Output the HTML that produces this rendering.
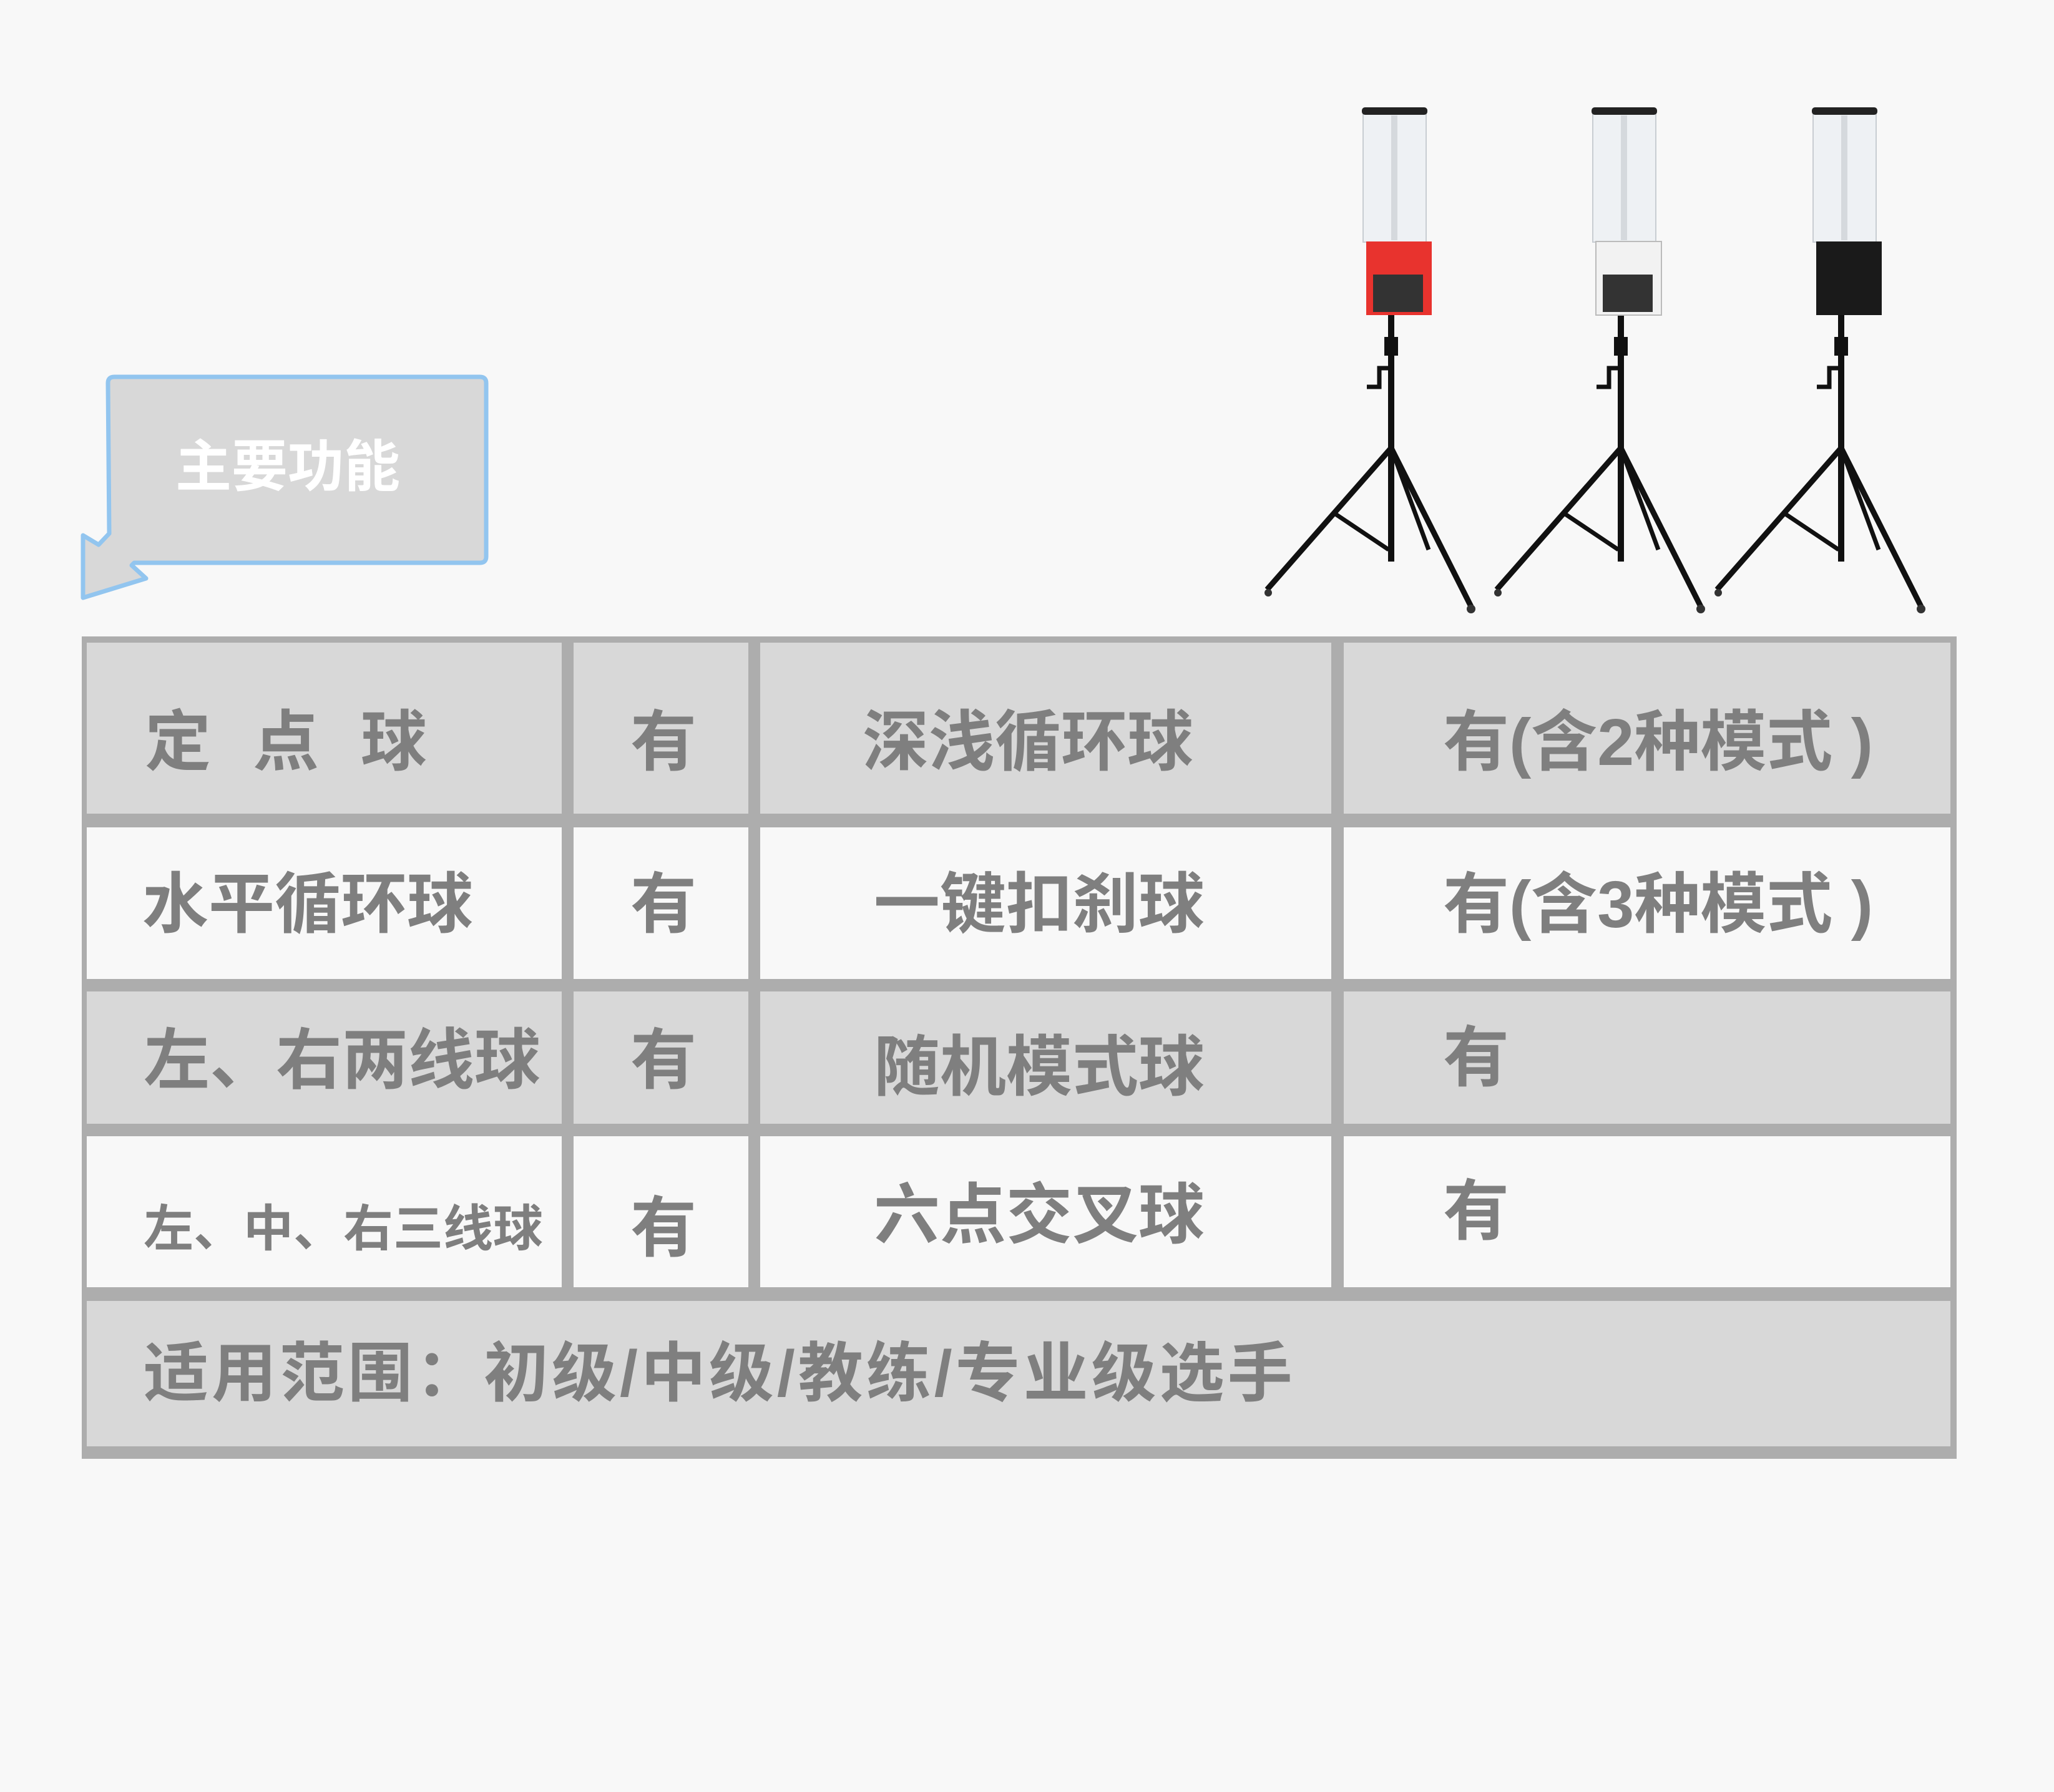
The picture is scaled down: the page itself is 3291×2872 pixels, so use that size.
<!DOCTYPE html>
<html><head><meta charset="utf-8"><style>
html,body{margin:0;padding:0;}
body{width:3291px;height:2872px;background:#f8f8f8;position:relative;overflow:hidden;font-family:"Liberation Sans","Noto Sans CJK SC",sans-serif;}
.a{position:absolute;}
.t{position:absolute;color:#7f7f7f;font-weight:bold;font-size:106px;line-height:106px;white-space:nowrap;}
</style></head><body>

<svg class="a" style="left:0;top:0" width="3291" height="1100">
  <path d="M183,604 L769,604 Q779,604 779,614 L779,892 Q779,902 769,902 L215,902 L211,906 L234,927 L133,958 L133,858 L158,873 L175,855 L173,614 Q173,604 183,604 Z" fill="#d8d8d8" stroke="#92c5ef" stroke-width="7" stroke-linejoin="round"/>
  <g id="m">
    <line x1="2229" y1="505" x2="2229" y2="900" stroke="#111" stroke-width="10"/>
    <rect x="2218" y="540" width="22" height="30" fill="#111"/>
    <path d="M2229,590 L2210,590 L2210,620 L2190,620" stroke="#111" stroke-width="7" fill="none"/>
    <line x1="2229" y1="718" x2="2030" y2="945" stroke="#111" stroke-width="9"/>
    <line x1="2229" y1="718" x2="2357" y2="972" stroke="#111" stroke-width="9"/>
    <line x1="2229" y1="718" x2="2289" y2="881" stroke="#111" stroke-width="7"/>
    <line x1="2137" y1="822" x2="2225" y2="881" stroke="#111" stroke-width="7"/>
    <circle cx="2032" cy="950" r="6" fill="#333"/>
    <circle cx="2357" cy="976" r="7" fill="#333"/>
    <rect x="2184" y="176" width="101" height="212" fill="#eef1f4" stroke="#c8cdd2" stroke-width="2"/>
    <rect x="2182" y="172" width="105" height="12" rx="5" fill="#222"/>
    <line x1="2234" y1="185" x2="2234" y2="385" stroke="#d5d9dd" stroke-width="10"/>
  </g>
  <rect x="2189" y="387" width="105" height="118" fill="#e8332e"/>
  <rect x="2200" y="440" width="80" height="60" fill="#333"/>
  <use href="#m" transform="translate(368,0)"/>
  <rect x="2557" y="387" width="105" height="118" fill="#f2f2f2" stroke="#bbb" stroke-width="2"/>
  <rect x="2568" y="440" width="80" height="60" fill="#333"/>
  <use href="#m" transform="translate(721,0)"/>
  <rect x="2910" y="387" width="105" height="118" fill="#1a1a1a"/>
</svg>

<div class="a" style="left:131px;top:1020px;width:3004px;height:1318px;background:#adadad;"></div>
<div class="a" style="left:139px;top:1030px;width:761px;height:274px;background:#d8d8d8"></div>
<div class="a" style="left:919px;top:1030px;width:280px;height:274px;background:#d8d8d8"></div>
<div class="a" style="left:1218px;top:1030px;width:915px;height:274px;background:#d8d8d8"></div>
<div class="a" style="left:2153px;top:1030px;width:972px;height:274px;background:#d8d8d8"></div>

<div class="a" style="left:139px;top:1326px;width:761px;height:243px;background:#f8f8f8"></div>
<div class="a" style="left:919px;top:1326px;width:280px;height:243px;background:#f8f8f8"></div>
<div class="a" style="left:1218px;top:1326px;width:915px;height:243px;background:#f8f8f8"></div>
<div class="a" style="left:2153px;top:1326px;width:972px;height:243px;background:#f8f8f8"></div>

<div class="a" style="left:139px;top:1589px;width:761px;height:212px;background:#d8d8d8"></div>
<div class="a" style="left:919px;top:1589px;width:280px;height:212px;background:#d8d8d8"></div>
<div class="a" style="left:1218px;top:1589px;width:915px;height:212px;background:#d8d8d8"></div>
<div class="a" style="left:2153px;top:1589px;width:972px;height:212px;background:#d8d8d8"></div>

<div class="a" style="left:139px;top:1821px;width:761px;height:242px;background:#f8f8f8"></div>
<div class="a" style="left:919px;top:1821px;width:280px;height:242px;background:#f8f8f8"></div>
<div class="a" style="left:1218px;top:1821px;width:915px;height:242px;background:#f8f8f8"></div>
<div class="a" style="left:2153px;top:1821px;width:972px;height:242px;background:#f8f8f8"></div>

<div class="a" style="left:139px;top:2085px;width:2986px;height:233px;background:#d8d8d8"></div>

<div class="t" style="left:232px;top:1137px;letter-spacing:67px">定点球</div>
<div class="t" style="left:1010px;top:1137px">有</div>
<div class="t" style="left:1382px;top:1137px">深浅循环球</div>
<div class="t" style="left:2312px;top:1137px">有(含2种模式&nbsp;)</div>

<div class="t" style="left:228px;top:1397px">水平循环球</div>
<div class="t" style="left:1010px;top:1397px">有</div>
<div class="t" style="left:1400px;top:1397px">一键扣刹球</div>
<div class="t" style="left:2312px;top:1397px">有(含3种模式&nbsp;)</div>

<div class="t" style="left:230px;top:1647px">左、右两线球</div>
<div class="t" style="left:1010px;top:1647px">有</div>
<div class="t" style="left:1400px;top:1658px">随机模式球</div>
<div class="t" style="left:2312px;top:1643px">有</div>

<div class="t" style="left:230px;top:1930px;font-size:80px;line-height:80px">左、中、右三线球</div>
<div class="t" style="left:1010px;top:1916px">有</div>
<div class="t" style="left:1400px;top:1895px">六点交叉球</div>
<div class="t" style="left:2312px;top:1889px">有</div>

<div class="t" style="left:230px;top:2150px;font-size:104px;line-height:104px;letter-spacing:5px">适用范围：初级/中级/教练/专业级选手</div>

<div class="a t" style="left:281px;top:704px;color:#fff;font-size:90px;line-height:90px">主要功能</div>
</body></html>
